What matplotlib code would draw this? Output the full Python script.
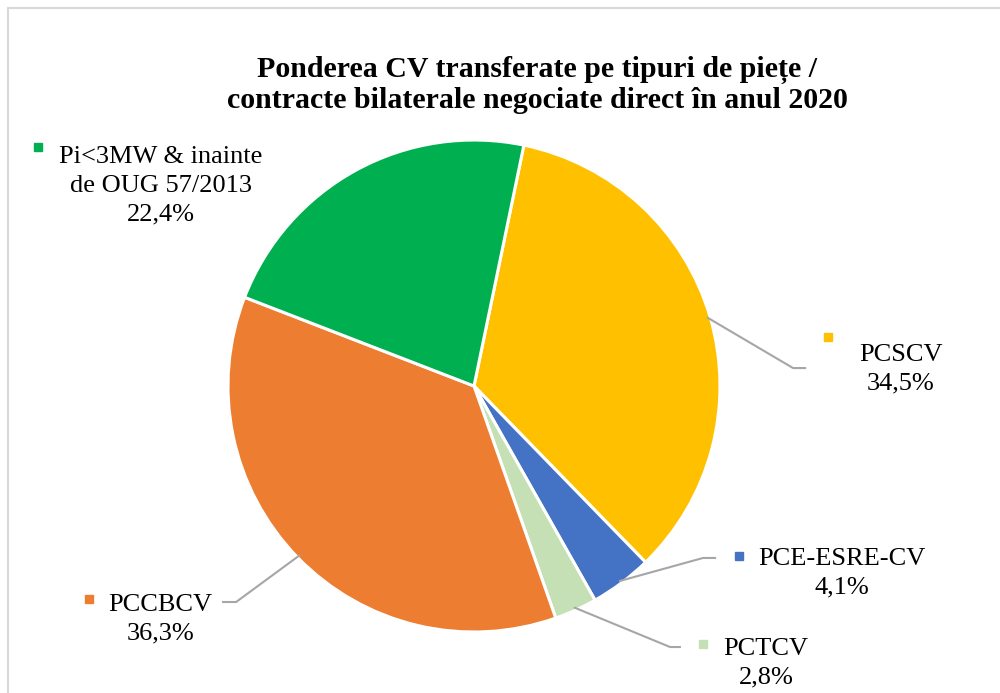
import numpy as np
import matplotlib.pyplot as plt
from matplotlib.patches import Rectangle

# data
categories = ["PCSCV", "PCE-ESRE-CV", "PCTCV", "PCCBCV", "Pi<3MW & inainte\nde OUG 57/2013"]
shares = [34.5, 4.1, 2.8, 36.3, 22.4]
share_labels = ["34,5%", "4,1%", "2,8%", "36,3%", "22,4%"]
colors = ["#FFC000", "#4472C4", "#C5E0B4", "#ED7D31", "#00B050"]

title = "Ponderea CV transferate pe tipuri de piețe /\ncontracte bilaterale negociate direct în anul 2020"

# label layout (axes data units, pie radius = 1)
text_pos = [(1.736, 0.068), (1.496, -0.762), (1.187, -1.126), (-1.276, -0.947), (-1.272, 0.815)]
marker_pos = [(1.439, 0.199), (1.077, -0.691), (0.931, -1.049), (-1.565, -0.866), (-1.772, 0.972)]
elbow = [(1.297, 0.073), (0.931, -0.699), (0.797, -1.061), (-0.967, -0.878), None]
elbow_end = [(1.346, 0.073), (0.980, -0.699), (0.837, -1.061), (-1.020, -0.878), None]

plt.rcParams["font.family"] = ["Liberation Serif", "DejaVu Serif"]

fig = plt.figure(figsize=(10, 6.93), dpi=100)
ax = fig.add_axes([0.228, 0.088, 0.492, 0.492 * 1000 / 693])

wedges, _ = ax.pie(shares, colors=colors, startangle=78.3, counterclock=False,
                   wedgeprops=dict(edgecolor="white", linewidth=2.2))
ax.set_xlim(-1, 1)
ax.set_ylim(-1, 1)
ax.set_aspect("equal")

for i, w in enumerate(wedges):
    mid = np.deg2rad((w.theta1 + w.theta2) / 2)
    if elbow[i] is not None:
        sx, sy = np.cos(mid) * 0.99, np.sin(mid) * 0.99
        ax.plot([sx, elbow[i][0], elbow_end[i][0]], [sy, elbow[i][1], elbow_end[i][1]],
                color="#A6A6A6", lw=1.5, clip_on=False, zorder=1)
    ax.text(text_pos[i][0], text_pos[i][1], categories[i] + "\n" + share_labels[i],
            ha="center", va="center", multialignment="center", fontsize=19,
            linespacing=1.38, color="black")
    ax.plot(marker_pos[i][0], marker_pos[i][1], marker="s", ms=5.8,
            color=colors[i], clip_on=False)

fig.text(0.537, 0.877, title, ha="center", va="center", fontsize=21.5,
         fontweight="bold", linespacing=1.12)

fig.add_artist(Rectangle((0.008, -0.1), 1.2, 1.1 - 8 / 693, transform=fig.transFigure,
                         fill=False, edgecolor="#D9D9D9", lw=1.5))

fig.savefig("out.png", dpi=100)
